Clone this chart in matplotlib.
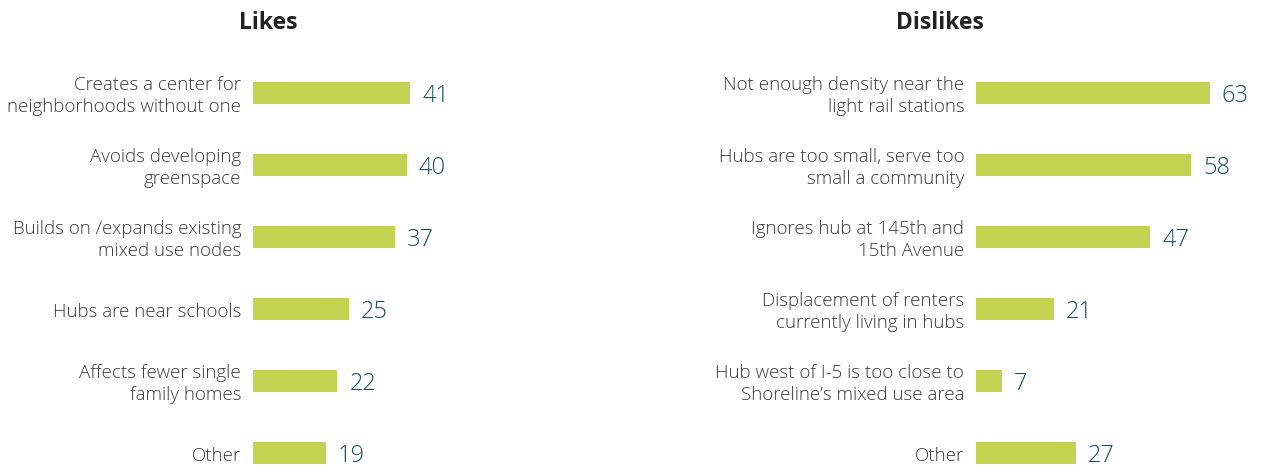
import matplotlib
matplotlib.use("Agg")
import matplotlib.pyplot as plt

plt.rcParams['font.family'] = ['Open Sans', 'DejaVu Sans']

likes_labels = [
    "Creates a center for\nneighborhoods without one",
    "Avoids developing\ngreenspace",
    "Builds on /expands existing\nmixed use nodes",
    "Hubs are near schools",
    "Affects fewer single\nfamily homes",
    "Other",
]
likes_values = [41, 40, 37, 25, 22, 19]

dislikes_labels = [
    "Not enough density near the\nlight rail stations",
    "Hubs are too small, serve too\nsmall a community",
    "Ignores hub at 145th and\n15th Avenue",
    "Displacement of renters\ncurrently living in hubs",
    "Hub west of I-5 is too close to\nShoreline\u2019s mixed use area",
    "Other",
]
dislikes_values = [63, 58, 47, 21, 7, 27]

BAR = "#c3d351"
VAL = "#1e4d5b"
LAB = "#3a3a3a"

W, H = 1264, 470
fig = plt.figure(figsize=(W / 100, H / 100), dpi=100)

top_px, bot_px = 57, 470
ylim = (5 + (bot_px - 453) / 72, -0.5)


def panel(left_px, px_per_unit, xmax, labels, values, title, title_x):
    width_px = px_per_unit * xmax
    ax = fig.add_axes([left_px / W, 1 - bot_px / H, width_px / W, (bot_px - top_px) / H])
    ax.set_xlim(0, xmax)
    ax.set_ylim(*ylim)
    ys = list(range(len(values)))
    ax.barh(ys, values, height=0.305, color=BAR)
    for y, v, lab in zip(ys, values, labels):
        ax.annotate(str(v), (v, y), xytext=(8.5, -1.8), textcoords="offset points",
                    ha="left", va="center", fontsize=17, color=VAL,
                    fontweight="light")
        ax.annotate(lab, (0, y), xytext=(-8.5, -2), textcoords="offset points",
                    ha="right", va="center", fontsize=13.5, color=LAB,
                    linespacing=1.32, fontweight="light",
                    annotation_clip=False)
    ax.axis("off")
    fig.text(title_x / W, 1 - 23 / H, title, ha="center", va="center",
             fontsize=16.5, fontweight="bold", color="#222222")


panel(253, 3.84, 50, likes_labels, likes_values, "Likes", 268)
panel(976, 3.71, 70, dislikes_labels, dislikes_values, "Dislikes", 940)

fig.savefig("out.png", dpi=100)
